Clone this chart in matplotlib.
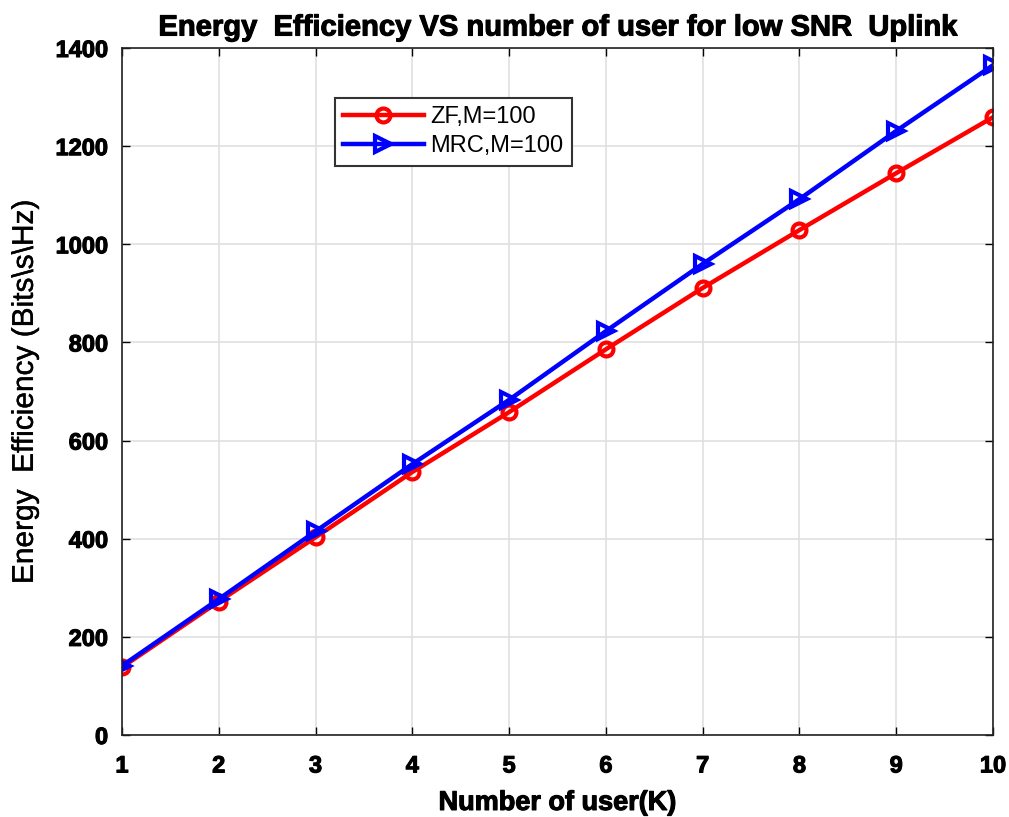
import numpy as np
import matplotlib
matplotlib.use("Agg")
import matplotlib.pyplot as plt
import matplotlib.patheffects as pe

# Data
users = [1, 2, 3, 4, 5, 6, 7, 8, 9, 10]
ee_zf = [138, 272, 403, 536, 658, 786, 911, 1029, 1145, 1259]
ee_mrc = [141, 277, 415, 552, 683, 823, 960, 1092, 1231, 1365]
yticks = [0, 200, 400, 600, 800, 1000, 1200, 1400]

plt.rcParams['font.family'] = ['Liberation Sans', 'DejaVu Sans']
heavy = [pe.withStroke(linewidth=0.8, foreground='black')]

fig = plt.figure(figsize=(10.09, 8.17), dpi=100)
ax = fig.add_axes([122 / 1009, 1 - 735 / 817, (993 - 122) / 1009, (735 - 48) / 817])

ax.plot(users, ee_zf, color='red', linewidth=3.2, marker='o', markersize=10,
        markerfacecolor='none', markeredgewidth=3, label='ZF,M=100')
ax.plot(users, ee_mrc, color='blue', linewidth=3.2, marker='>', markersize=12,
        markerfacecolor='none', markeredgewidth=3, label='MRC,M=100')

ax.set_xlim(1, 10)
ax.set_ylim(0, 1400)
ax.set_xticks(users)
ax.set_yticks(yticks)
ax.grid(True, color='#e0e0e0', linewidth=1.2)
ax.tick_params(direction='in', top=True, right=True, length=6, width=1)
ax.tick_params(axis='x', pad=14)
ax.tick_params(axis='y', pad=10)
for lab in ax.get_xticklabels() + ax.get_yticklabels():
    lab.set_fontweight('bold')
    lab.set_fontsize(17)
    lab.set_path_effects(heavy)
for sp in ax.spines.values():
    sp.set_linewidth(1.2)
    sp.set_color('#222222')

ax.set_title('Energy  Efficiency VS number of user for low SNR  Uplink',
             fontweight='bold', fontsize=21, pad=9, path_effects=heavy)
ax.set_xlabel('Number of user(K)', fontweight='bold', fontsize=19.5,
              labelpad=9, path_effects=heavy)
ax.set_ylabel('Energy  Efficiency (Bits\\s\\Hz)', fontsize=21.5, labelpad=12,
              path_effects=[pe.withStroke(linewidth=0.3, foreground='black')])

leg = ax.legend(loc='upper left', bbox_to_anchor=(0.2445, 0.927), fontsize=17,
                fancybox=False, edgecolor='#333333', framealpha=1,
                handlelength=3.4, handletextpad=0.3, borderpad=0.35,
                labelspacing=0.3, borderaxespad=0)
leg.get_frame().set_linewidth(1.5)

fig.savefig('out.png', dpi=100)
